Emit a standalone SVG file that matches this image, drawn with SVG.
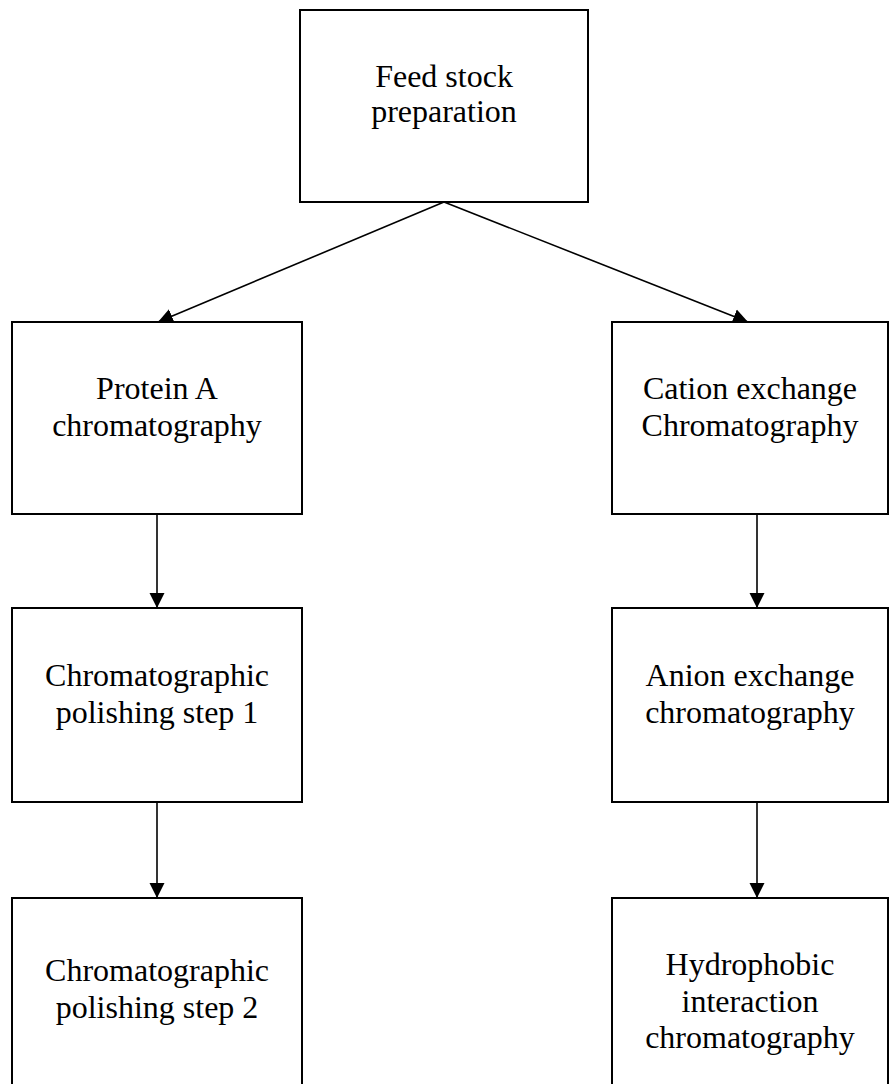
<svg xmlns="http://www.w3.org/2000/svg" width="890" height="1084" viewBox="0 0 890 1084">
<style>
.box{fill:#fff;stroke:#000;stroke-width:2}
.lbl{font-family:"Liberation Serif","Times New Roman",serif;font-size:32px;fill:#000;text-anchor:middle}
.con{stroke:#000;stroke-width:1.6;fill:none;marker-end:url(#ah)}
</style>
<defs>
<marker id="ah" markerUnits="userSpaceOnUse" markerWidth="16" markerHeight="16" viewBox="0 0 16 16" refX="15" refY="8" orient="auto">
<path d="M0,0.5 L15,8 L0,15.5 Z" fill="#000"/>
</marker>
</defs>
<rect width="890" height="1084" fill="#fff"/>
<g id="connectors">
<line class="con" x1="444" y1="202" x2="158" y2="322"/>
<line class="con" x1="444" y1="202" x2="748" y2="322"/>
<line class="con" x1="157" y1="514" x2="157" y2="608"/>
<line class="con" x1="157" y1="802" x2="157" y2="898"/>
<line class="con" x1="757" y1="514" x2="757" y2="608"/>
<line class="con" x1="757" y1="802" x2="757" y2="898"/>
</g>
<g id="feed">
<rect class="box" x="300" y="10" width="288" height="192"/>
<text class="lbl" x="444" y="87">Feed stock</text>
<text class="lbl" x="444" y="122">preparation</text>
</g>
<g id="proteinA">
<rect class="box" x="12" y="322" width="290" height="192"/>
<text class="lbl" x="157" y="399">Protein A</text>
<text class="lbl" x="157" y="436">chromatography</text>
</g>
<g id="cation">
<rect class="box" x="612" y="322" width="276" height="192"/>
<text class="lbl" x="750" y="399">Cation exchange</text>
<text class="lbl" x="750" y="436">Chromatography</text>
</g>
<g id="polish1">
<rect class="box" x="12" y="608" width="290" height="194"/>
<text class="lbl" x="157" y="686">Chromatographic</text>
<text class="lbl" x="157" y="723">polishing step 1</text>
</g>
<g id="anion">
<rect class="box" x="612" y="608" width="276" height="194"/>
<text class="lbl" x="750" y="686">Anion exchange</text>
<text class="lbl" x="750" y="723">chromatography</text>
</g>
<g id="polish2">
<rect class="box" x="12" y="898" width="290" height="200"/>
<text class="lbl" x="157" y="981">Chromatographic</text>
<text class="lbl" x="157" y="1018">polishing step 2</text>
</g>
<g id="hic">
<rect class="box" x="612" y="898" width="276" height="200"/>
<text class="lbl" x="750" y="975">Hydrophobic</text>
<text class="lbl" x="750" y="1012">interaction</text>
<text class="lbl" x="750" y="1048">chromatography</text>
</g>
</svg>
